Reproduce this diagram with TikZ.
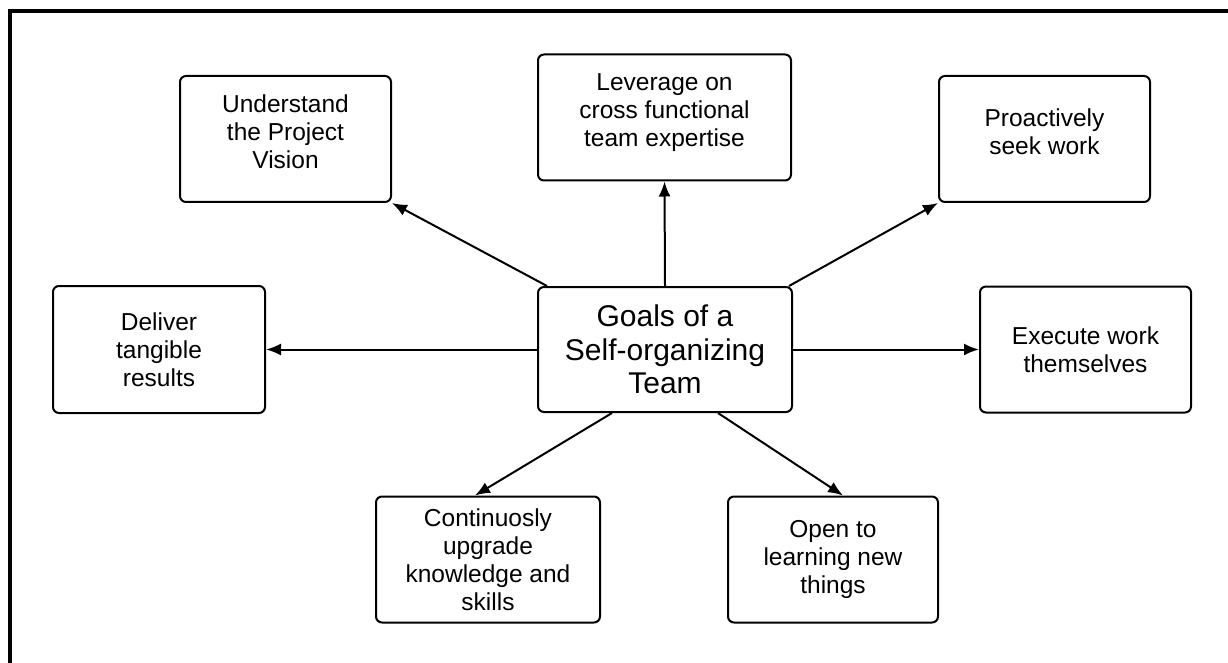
\documentclass[tikz,border=0pt]{standalone}
\usepackage{fontspec}
\setmainfont{Liberation Sans}
\usetikzlibrary{arrows.meta}

% top row text sits a little above the middle of its box
\newcommand{\liftup}{\\[-14pt]\mbox{}}

\tikzset{
 goal/.style={draw=black, line width=2pt, rounded corners=6pt, align=center,
   inner sep=0pt, minimum width=211pt, minimum height=126pt,
   font=\fontsize{24.5}{28}\selectfont},
 hub/.style={goal, minimum width=254pt, minimum height=125pt,
   font=\fontsize{30}{33.5}\selectfont},
 link/.style={line width=2pt, -{Latex[length=15pt,width=12pt]}}
}

\begin{document}
\begin{tikzpicture}[x=1pt, y=-1pt]
\useasboundingbox (0,0) rectangle (1228,663);
% frame
\draw[line width=4pt] (10,663) -- (10,11) -- (1228,11);

% the hub
\node[hub] (ctr) at (665,349.5) {Goals of a\\Self-organizing\\Team};

% the goals round it
\node[goal] (und) at (285.5,139) {Understand\\the Project\\Vision\liftup};
\node[goal, minimum width=253pt] (lev) at (664.5,117.5) {Leverage on\\cross functional\\team expertise\liftup};
\node[goal] (pro) at (1044.5,139) {Proactively\\seek work\liftup};
\node[goal, minimum width=212pt, minimum height=127pt] (del) at (159,349.5) {Deliver\\tangible\\results};
\node[goal] (exe) at (1085.5,349.5) {Execute work\\themselves};
\node[goal, minimum width=224pt] (con) at (488,559.5) {Continuosly\\upgrade\\knowledge and\\skills};
\node[goal, minimum width=210pt] (opn) at (833,559.5) {Open to\\learning new\\things};

% arrows
\draw[link] ([xshift=10pt]ctr.north west) -- (und.south east);
\draw[link] (ctr.north) -- (lev.south);
\draw[link] ([xshift=-4pt]ctr.north east) -- (pro.south west);
\draw[link] (ctr.west) -- (del.east);
\draw[link] (ctr.east) -- (exe.west);
\draw[link] ([xshift=-53pt]ctr.south) -- ([xshift=-13pt]con.north);
\draw[link] ([xshift=53pt]ctr.south) -- ([xshift=10pt]opn.north);
\end{tikzpicture}
\end{document}
